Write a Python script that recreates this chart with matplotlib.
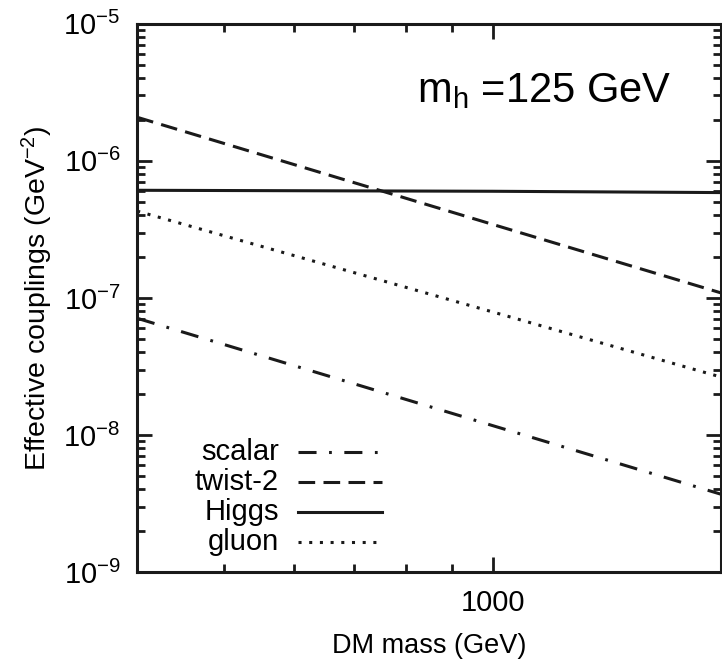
import numpy as np
import matplotlib
matplotlib.use("Agg")
import matplotlib.pyplot as plt
from matplotlib.lines import Line2D
from matplotlib.ticker import LogLocator, FixedLocator, NullFormatter, FixedFormatter

plt.rcParams['font.family'] = ['Liberation Sans', 'DejaVu Sans']
plt.rcParams['mathtext.fontset'] = 'custom'
plt.rcParams['mathtext.rm'] = 'Liberation Sans'
plt.rcParams['mathtext.it'] = 'Liberation Sans:italic'
plt.rcParams['lines.scale_dashes'] = False

# DM mass (GeV) and effective couplings (GeV^-2)
mass = [400, 1000, 1800]
scalar = [7.1e-8, 1.17e-8, 3.7e-9]
twist2 = [2.08e-6, 3.44e-7, 1.09e-7]
higgs = [6.1e-7, 6.0e-7, 5.87e-7]
gluon = [4.3e-7, 7.9e-8, 2.65e-8]

labels = ['scalar', 'twist-2', 'Higgs', 'gluon']
x_ticks = [1000]
x_ticklabels = ['1000']
y_ticks = [1e-9, 1e-8, 1e-7, 1e-6, 1e-5]
y_ticklabels = ['10$^{-9}$', '10$^{-8}$', '10$^{-7}$', '10$^{-6}$', '10$^{-5}$']

styles = {
    'scalar': (0, (13, 9, 2, 9)),
    'twist-2': (0, (12, 6)),
    'Higgs': '-',
    'gluon': (0, (2.2, 5.5)),
}

fig = plt.figure(figsize=(7.22, 6.62), dpi=100)
ax = fig.add_axes([0.19, 0.136, 0.808, 0.828])

lw = 2.2
ax.plot(mass, scalar, color='#1a1a1a', lw=lw, ls=styles['scalar'])
ax.plot(mass, twist2, color='#1a1a1a', lw=lw, ls=styles['twist-2'])
ax.plot(mass, higgs, color='#1a1a1a', lw=lw, ls=styles['Higgs'])
ax.plot(mass, gluon, color='#1a1a1a', lw=lw, ls=styles['gluon'])

ax.set_xscale('log')
ax.set_yscale('log')
ax.set_xlim(400, 1800)
ax.set_ylim(1e-9, 1e-5)

ax.xaxis.set_major_locator(FixedLocator(x_ticks))
ax.xaxis.set_major_formatter(FixedFormatter(x_ticklabels))
ax.xaxis.set_minor_locator(LogLocator(base=10, subs=np.arange(2, 10)))
ax.xaxis.set_minor_formatter(NullFormatter())
ax.yaxis.set_major_locator(FixedLocator(y_ticks))
ax.yaxis.set_major_formatter(FixedFormatter(y_ticklabels))
ax.yaxis.set_minor_locator(LogLocator(base=10, subs=np.arange(2, 10), numticks=20))
ax.yaxis.set_minor_formatter(NullFormatter())

ax.tick_params(which='both', direction='in', top=True, right=True,
               width=2, color='#1a1a1a', labelsize=21)
ax.tick_params(which='major', length=11, pad=12)
ax.tick_params(which='minor', length=6)
for s in ax.spines.values():
    s.set_linewidth(2.2)
    s.set_color('#1a1a1a')

ax.set_xlabel('DM mass (GeV)', fontsize=19.5, labelpad=12)
ax.set_ylabel('Effective couplings (GeV$^{-2}$)', fontsize=20.5, labelpad=6)

ax.text(0.48, 0.858, 'm$_{\\mathrm{h}}$ =125 GeV', transform=ax.transAxes,
        fontsize=30, va='baseline', ha='left')

# legend: right-aligned labels followed by line samples
for i, name in enumerate(labels):
    y = 0.218 - i * 0.0547
    ax.text(0.243, y, name, transform=ax.transAxes, fontsize=21,
            ha='right', va='center')
    ax.add_line(Line2D([0.275, 0.42], [y, y], transform=ax.transAxes,
                       color='#1a1a1a', lw=lw, ls=styles[name]))

fig.savefig('out.png', dpi=100)
